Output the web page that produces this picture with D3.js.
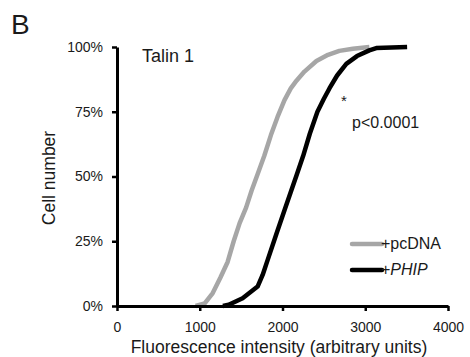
<!DOCTYPE html>
<html><head><meta charset="utf-8">
<script src="https://cdn.jsdelivr.net/npm/d3@7"></script>
<style>body{margin:0;background:#fff}svg{display:block}text{font-family:"Liberation Sans",Arial,sans-serif;fill:#1a1a1a}</style>
</head><body>
<script>
const pcdnaX = [950,1060,1157,1250,1337,1410,1482,1560,1627,1700,1780,1860,1940,2024,2100,2169,2265,2410,2550,2687,2850,2964,3050];
const pcdnaY = [0,1,5,11,17,25,32,38,44.6,51,58,66,73,79.5,84,87,90.5,94.6,97,98.5,99.3,99.7,100];
const phipX = [1280,1350,1518,1699,1760,1820,1928,2024,2100,2169,2250,2330,2422,2500,2567,2660,2771,2900,3049,3133,3506];
const phipY = [0,0.5,3,7.5,12,17.7,28,37,44,50.4,58,66.5,75,80,84,89,93.5,96.5,98.7,99.6,100];
const xTicks = [0,1000,2000,3000,4000];
const yTicks = [0,25,50,75,100];
const seriesNames = ["+pcDNA","+PHIP"];

const W=470,H=357;
const svg=d3.select("body").append("svg").attr("width",W).attr("height",H);
const x=d3.scaleLinear().domain([0,4000]).range([117,448]);
const y=d3.scaleLinear().domain([0,100]).range([306,47]);

const line=d3.line().x(d=>x(d[0])).y(d=>y(d[1]));
const pc=pcdnaX.map((v,i)=>[v,pcdnaY[i]]);
const ph=phipX.map((v,i)=>[v,phipY[i]]);
svg.append("path").attr("d",line(pc)).attr("fill","none").attr("stroke","#a6a6a6").attr("stroke-width",4.5).attr("stroke-linejoin","round");
svg.append("path").attr("d",line(ph)).attr("fill","none").attr("stroke","#000").attr("stroke-width",4.5).attr("stroke-linejoin","round");

const xa=svg.append("g").attr("transform","translate(0,306)").call(d3.axisBottom(x).tickValues(xTicks).tickSize(5).tickSizeOuter(0).tickFormat(d3.format("d")));
const ya=svg.append("g").attr("transform","translate(117,0)").call(d3.axisLeft(y).tickValues(yTicks).tickSize(5).tickSizeOuter(0).tickFormat(d=>d+"%"));
[xa,ya].forEach(a=>{
  a.select(".domain").attr("stroke","#000").attr("stroke-width",3);
  a.selectAll(".tick line").attr("stroke","#000").attr("stroke-width",2.5);
  a.selectAll(".tick text").attr("font-size",14).attr("fill","#1a1a1a").style("font-family","Liberation Sans, Arial, sans-serif");
});
xa.selectAll(".tick text").attr("y",26).attr("dy",0);
ya.selectAll(".tick text").attr("x",-14);

svg.append("text").attr("x",11).attr("y",34).attr("font-size",28).text("B");
svg.append("text").attr("x",142).attr("y",62).attr("font-size",18).text("Talin 1");
svg.append("text").attr("x",341).attr("y",106).attr("font-size",15).text("*");
svg.append("text").attr("x",352).attr("y",128).attr("font-size",16).text("p<0.0001");

svg.append("text").attr("transform","translate(55,178) rotate(-90)").attr("text-anchor","middle").attr("font-size",17.5).text("Cell number");
svg.append("text").attr("x",279).attr("y",353).attr("text-anchor","middle").attr("font-size",17.5).text("Fluorescence intensity (arbitrary units)");

// legend
const lg=[{c:"#a6a6a6",y:244},{c:"#000",y:270}];
lg.forEach((l,i)=>{
  svg.append("line").attr("x1",352).attr("x2",382).attr("y1",l.y).attr("y2",l.y).attr("stroke",l.c).attr("stroke-width",4.5).attr("stroke-linecap","round");
});
svg.append("text").attr("x",381).attr("y",249).attr("font-size",16).text(seriesNames[0]);
const t2=svg.append("text").attr("x",381).attr("y",275).attr("font-size",16);
t2.append("tspan").text("+");
t2.append("tspan").attr("font-style","italic").text(seriesNames[1].slice(1));
</script>
</body></html>
